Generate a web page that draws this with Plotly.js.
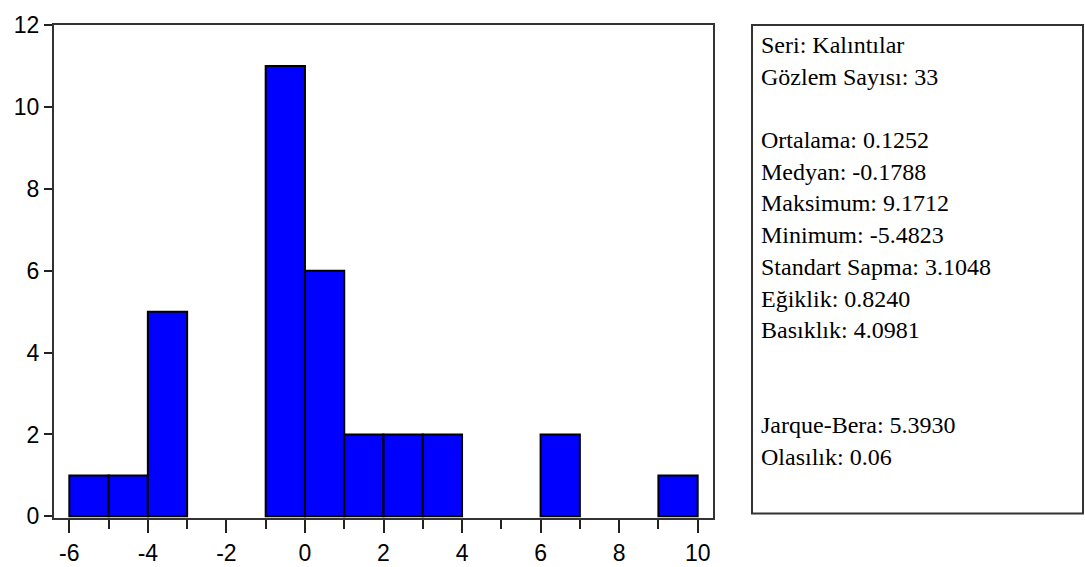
<!DOCTYPE html>
<html>
<head>
<meta charset="utf-8">
<script src="https://cdn.plot.ly/plotly-3.0.1.min.js"></script>
<style>html,body{margin:0;padding:0;background:#fff;}#chart{width:1085px;height:567px;}</style>
</head>
<body>
<div id="chart"></div>
<script>
// Histogram bins (left edges, width 1) and counts
const binLeft = [-6, -5, -4, -3, -2, -1, 0, 1, 2, 3, 4, 5, 6, 7, 8, 9];
const binCount = [1, 1, 5, 0, 0, 11, 6, 2, 2, 2, 0, 0, 2, 0, 0, 1];
const binWidth = 1;

// Axis tick values and labels (hyphen-minus as in the reference)
const xTickVals = [-6, -4, -2, 0, 2, 4, 6, 8, 10];
const xTickText = ['-6', '-4', '-2', '0', '2', '4', '6', '8', '10'];
const yTickVals = [0, 2, 4, 6, 8, 10, 12];
const yTickText = ['0', '2', '4', '6', '8', '10', '12'];

// Statistics panel text lines ('' = blank line)
const statLines = [
  'Seri: Kalıntılar',
  'Gözlem Sayısı: 33',
  '',
  'Ortalama: 0.1252',
  'Medyan: -0.1788',
  'Maksimum: 9.1712',
  'Minimum: -5.4823',
  'Standart Sapma: 3.1048',
  'Eğiklik: 0.8240',
  'Basıklık: 4.0981',
  '',
  '',
  'Jarque-Bera: 5.3930',
  'Olasılık: 0.06'
];

const xs = [], ys = [];
binLeft.forEach((b, i) => { if (binCount[i] > 0) { xs.push(b); ys.push(binCount[i]); } });

const W = 1085, H = 567;
const mL = 54, mR = 372, mT = 25, mB = 49;
const pw = W - mL - mR, ph = H - mT - mB;
const px2x = p => (p - mL) / pw;
const px2y = p => (H - mB - p) / ph;

const trace = {
  type: 'bar',
  x: xs,
  y: ys,
  width: binWidth,
  offset: 0,
  marker: { color: '#0000FF', line: { color: '#000000', width: 2 } },
  hoverinfo: 'x+y'
};

const annotations = statLines.map((t, i) => ({
  xref: 'paper', yref: 'paper',
  x: px2x(759), y: px2y(45 + i * 31.7),
  xanchor: 'left', yanchor: 'middle',
  text: t, showarrow: false,
  font: { family: '"Liberation Serif", "Times New Roman", serif', size: 24, color: '#000' }
})).filter(a => a.text !== '');

const layout = {
  width: W, height: H,
  margin: { l: mL, r: mR, t: mT, b: mB, pad: 0 },
  paper_bgcolor: '#fff', plot_bgcolor: '#fff',
  showlegend: false,
  bargap: 0,
  font: { family: '"Liberation Sans", Arial, sans-serif', size: 23, color: '#000' },
  xaxis: {
    range: [-6.39, 10.39],
    tickmode: 'array', tickvals: xTickVals, ticktext: xTickText,
    ticks: 'outside', ticklen: 13, tickwidth: 2, tickcolor: '#222',
    minor: { dtick: 1, tick0: 0, ticks: 'outside', ticklen: 9, tickwidth: 2, tickcolor: '#222', showgrid: false },
    showline: true, linecolor: '#333', linewidth: 2, mirror: true,
    showgrid: false, zeroline: false,
    tickfont: { size: 23, color: '#000' }
  },
  yaxis: {
    range: [-0.04, 12],
    tickmode: 'array', tickvals: yTickVals, ticktext: yTickText,
    ticks: 'outside', ticklen: 8, tickwidth: 2, tickcolor: '#222',
    showline: true, linecolor: '#333', linewidth: 2, mirror: true,
    showgrid: false, zeroline: false,
    tickfont: { size: 23, color: '#000' }
  },
  shapes: [{
    type: 'rect', xref: 'paper', yref: 'paper',
    x0: px2x(752), x1: px2x(1083), y0: px2y(513.5), y1: px2y(25),
    line: { color: '#333', width: 2 }, fillcolor: 'rgba(0,0,0,0)'
  }],
  annotations: annotations
};

Plotly.newPlot('chart', [trace], layout, { displayModeBar: false, staticPlot: true });
</script>
</body>
</html>
